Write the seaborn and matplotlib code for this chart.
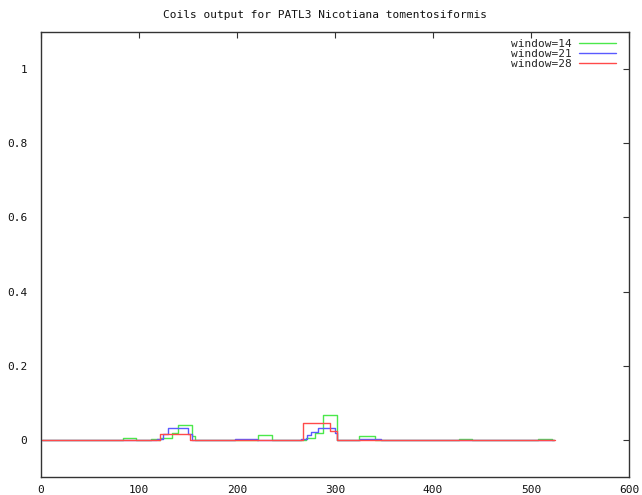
import matplotlib
matplotlib.use("Agg")
import matplotlib.pyplot as plt
import seaborn as sns
import pandas as pd
from matplotlib.ticker import FuncFormatter, MultipleLocator

# Coiled-coil probability per residue, as piecewise-constant steps
# (residue where a level starts, probability from there on)
w14_start = [1, 84, 97, 112, 119, 121, 134, 140, 154, 157, 221, 236, 270, 280,
             288, 302, 324, 341, 427, 440, 507, 521, 523]
w14_prob = [0, 0.006, 0, 0.003, 0, 0.004, 0.019, 0.041, 0.010, 0, 0.013, 0,
            0.004, 0.018, 0.066, 0, 0.011, 0, 0.002, 0, 0.002, 0, 0]

w21_start = [1, 118, 124, 130, 150, 154, 198, 220, 265, 271, 275, 283, 300,
             302, 326, 347, 523]
w21_prob = [0, 0.002, 0.016, 0.032, 0.015, 0, 0.003, 0, 0.002, 0.012, 0.022,
            0.031, 0.020, 0, 0.002, 0, 0]

w28_start = [1, 121, 152, 267, 295, 302, 524]
w28_prob = [0, 0.015, 0, 0.046, 0.025, 0, 0]

series = [
    ("window=14", w14_start, w14_prob, "#4be84b"),
    ("window=21", w21_start, w21_prob, "#5a5aff"),
    ("window=28", w28_start, w28_prob, "#ff4a4a"),
]

title = "Coils output for PATL3 Nicotiana tomentosiformis"

sns.set_style("white")
plt.rcParams["font.family"] = ["DejaVu Sans Mono", "DejaVu Sans"]
fs = 8

fig = plt.figure(figsize=(6.42, 4.95), dpi=100)
ax = fig.add_axes([41 / 642, 1 - 477 / 495, (629 - 41) / 642, (477 - 32) / 495])

for name, xs, ys, col in series:
    df = pd.DataFrame({"residue": xs, "prob": ys})
    sns.lineplot(data=df, x="residue", y="prob", ax=ax, color=col, lw=1.0,
                 drawstyle="steps-post", estimator=None, sort=False,
                 label=name)

ax.set_xlim(0, 600)
ax.set_ylim(-0.1, 1.1)
ax.xaxis.set_major_locator(MultipleLocator(100))
ax.set_yticks([0, 0.2, 0.4, 0.6, 0.8, 1.0])
ax.yaxis.set_major_formatter(FuncFormatter(lambda v, p: f"{v:g}"))
ax.set_xlabel("")
ax.set_ylabel("")

for s in ax.spines.values():
    s.set_visible(True)
    s.set_color("#333333")
    s.set_linewidth(1.0)

ax.tick_params(axis="both", direction="in", length=4, width=0.8,
               color="#333333", top=True, right=True, labelsize=fs,
               labelcolor="#111111")
ax.tick_params(axis="y", pad=10)
ax.tick_params(axis="x", pad=6)

leg = ax.legend(loc="upper right", bbox_to_anchor=(0.986, 0.994),
                frameon=False, markerfirst=False, fontsize=fs,
                handlelength=3.4, handletextpad=0.6, labelspacing=0.0,
                borderaxespad=0.0)
for t in leg.get_texts():
    t.set_ha("right")

fig.text(325 / 642, 1 - 15 / 495, title, ha="center", va="center",
         fontsize=fs, color="#111111")

fig.savefig("out.png", dpi=100)
